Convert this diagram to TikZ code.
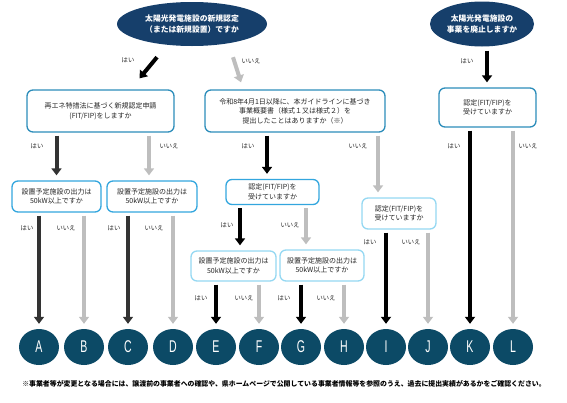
\documentclass[tikz,border=0pt]{standalone}
\usepackage{fontspec}
\setmainfont{Noto Sans CJK JP}
\newfontfamily\lat[FakeStretch=0.62]{Liberation Sans}
\usetikzlibrary{shapes.geometric,arrows.meta}
\definecolor{navy}{HTML}{163F6B}
\definecolor{circfill}{HTML}{0C4A66}
\definecolor{bordA}{HTML}{2C8DBA}
\definecolor{bordB}{HTML}{33A6DE}
\definecolor{bordC}{HTML}{95D8F2}
\definecolor{darkarr}{HTML}{333333}
\definecolor{grayarr}{HTML}{BEBEBE}
\begin{document}
\begin{tikzpicture}[x=1pt,y=-1pt,
  font=\fontsize{7}{9.5}\selectfont,
  ell/.style={ellipse, fill=navy, text=white, inner sep=0pt, align=center,
    font=\fontsize{7.8}{11}\selectfont\bfseries},
  qbox/.style={draw=bordA, line width=1.3pt, rounded corners=6pt, fill=white,
    align=center, inner sep=0pt, text=black!85},
  qboxb/.style={qbox, draw=bordB},
  qboxc/.style={qbox, draw=bordC},
  circ/.style={ellipse, fill=circfill, minimum width=40pt, minimum height=36pt,
    inner sep=0pt, text=white, font=\lat\fontsize{17}{17}\selectfont},
  arrbase/.style={line width=4pt, -{Triangle[width=10pt,length=7pt]},
    shorten <=3pt, shorten >=5pt},
  blk/.style={arrbase, draw=black},
  dk/.style={arrbase, draw=darkarr},
  gr/.style={arrbase, draw=grayarr},
  lbl/.style={font=\fontsize{6.3}{7}\selectfont, inner sep=0pt, text=black!85}
]
\useasboundingbox (0,0) rectangle (567,402);

% top ellipses
\node[ell, minimum width=150pt, minimum height=44pt] (q1) at (192,24)
  {太陽光発電施設の新規認定\\（または新規設置）ですか};
\node[ell, minimum width=104pt, minimum height=45pt] (q2) at (482,24)
  {太陽光発電施設の\\事業を廃止しますか};

% second level boxes
\node[qbox, minimum width=147pt, minimum height=42pt] (b1) at (100.5,111)
  {再エネ特措法に基づく新規認定申請\\(FIT/FIP)をしますか};
\node[qbox, minimum width=180pt, minimum height=42pt] (b2) at (295,111)
  {令和8年4月1日以降に、本ガイドラインに基づき\\事業概要書（様式１又は様式２）を\\提出したことはありますか（※）};
\node[qbox, minimum width=97pt, minimum height=39pt] (b3) at (487.5,107.5)
  {認定(FIT/FIP)を\\受けていますか};

% third level boxes
\node[qboxb, minimum width=89pt, minimum height=31pt] (a1) at (56.5,196.5)
  {設置予定施設の出力は\\50kW以上ですか};
\node[qboxb, minimum width=90pt, minimum height=31pt] (c1) at (152,196.5)
  {設置予定施設の出力は\\50kW以上ですか};
\node[qboxb, minimum width=93pt, minimum height=25pt] (m1) at (272.5,192)
  {認定(FIT/FIP)を\\受けていますか};
\node[qboxc, minimum width=74pt, minimum height=31pt] (r1) at (399,213.5)
  {認定(FIT/FIP)を\\受けていますか};
\node[qboxc, minimum width=85pt, minimum height=30pt] (e2) at (233.5,266)
  {設置予定施設の出力は\\50kW以上ですか};
\node[qboxc, minimum width=84pt, minimum height=31pt] (g2) at (322,265.5)
  {設置予定施設の出力は\\50kW以上ですか};

% result circles
\foreach \n/\x in {A/39,B/84,C/128,D/173,E/216,F/259,G/301,H/344,I/386,J/428,K/470,L/513}
  \node[circ] (\n) at (\x,347) {\n};

% arrows from top ellipses
\draw[blk, shorten <=0pt, shorten >=0pt] ([xshift=-35pt,yshift=-11pt]q1.south) -- ([xshift=39pt,yshift=11pt]b1.north);
\draw[gr, shorten <=0pt, shorten >=0pt] ([xshift=41pt,yshift=-11pt]q1.south) -- ([xshift=-54pt,yshift=7pt]b2.north);
\draw[blk, shorten <=4pt] ([xshift=5pt]q2.south) -- ([xshift=-0.5pt]b3.north);

% from b1
\draw[dk] (a1.north |- b1.south) -- (a1.north);
\draw[gr] ([xshift=-3pt]c1.north |- b1.south) -- ([xshift=-3pt]c1.north);
% from b2
\draw[blk] ([xshift=-5.5pt]m1.north |- b2.south) -- ([xshift=-5.5pt]m1.north);
\draw[gr] ([xshift=-21pt]r1.north |- b2.south) -- ([xshift=-21pt]r1.north);
% from b3
\draw[blk] (K.north |- b3.south) -- (K.north);
\draw[gr] (L.north |- b3.south) -- (L.north);
% from a1, c1
\draw[dk] (A.north |- a1.south) -- (A.north);
\draw[gr] (B.north |- a1.south) -- (B.north);
\draw[dk] (C.north |- c1.south) -- (C.north);
\draw[gr] (D.north |- c1.south) -- (D.north);
% from m1
\draw[blk] ([xshift=6.5pt]e2.north |- m1.south) -- ([xshift=6.5pt]e2.north);
\draw[gr] ([xshift=-16pt]g2.north |- m1.south) -- ([xshift=-16pt]g2.north);
% from r1
\draw[blk] (I.north |- r1.south) -- (I.north);
\draw[gr] (J.north |- r1.south) -- (J.north);
% from e2, g2
\draw[blk] (E.north |- e2.south) -- (E.north);
\draw[gr] (F.north |- e2.south) -- (F.north);
\draw[blk] (G.north |- g2.south) -- (G.north);
\draw[gr] (H.north |- g2.south) -- (H.north);

% labels
\node[lbl] (l1) at (128,60) {はい};
\node[lbl] (l2) at (251,61) {いいえ};
\node[lbl] (l3) at (467,61) {はい};
\node[lbl] (l4) at (37,146) {はい};
\node[lbl] (l5) at (169,146) {いいえ};
\node[lbl] (l6) at (248,146) {はい};
\node[lbl] (l7) at (358,146) {いいえ};
\node[lbl] (l8) at (454,146) {はい};
\node[lbl] (l9) at (528,146) {いいえ};
\node[lbl] (l10) at (27,228) {はい};
\node[lbl] (l11) at (66,228) {いいえ};
\node[lbl] (l12) at (114,228) {はい};
\node[lbl] (l13) at (154,228) {いいえ};
\node[lbl] (l14) at (227,225) {はい};
\node[lbl] (l15) at (290,225) {いいえ};
\node[lbl] (l16) at (370,242) {はい};
\node[lbl] (l17) at (411,242) {いいえ};
\node[lbl] (l18) at (201,298) {はい};
\node[lbl] (l19) at (244,298) {いいえ};
\node[lbl] (l20) at (284,298) {はい};
\node[lbl] (l21) at (326,298) {いいえ};

% footnote
\node[inner sep=0pt, font=\fontsize{6.9}{8}\selectfont\bfseries] (note) at (284,384)
  {※事業者等が変更となる場合には、譲渡前の事業者への確認や、県ホームページで公開している事業者情報等を参照のうえ、過去に提出実績があるかをご確認ください。};
\end{tikzpicture}
\end{document}
